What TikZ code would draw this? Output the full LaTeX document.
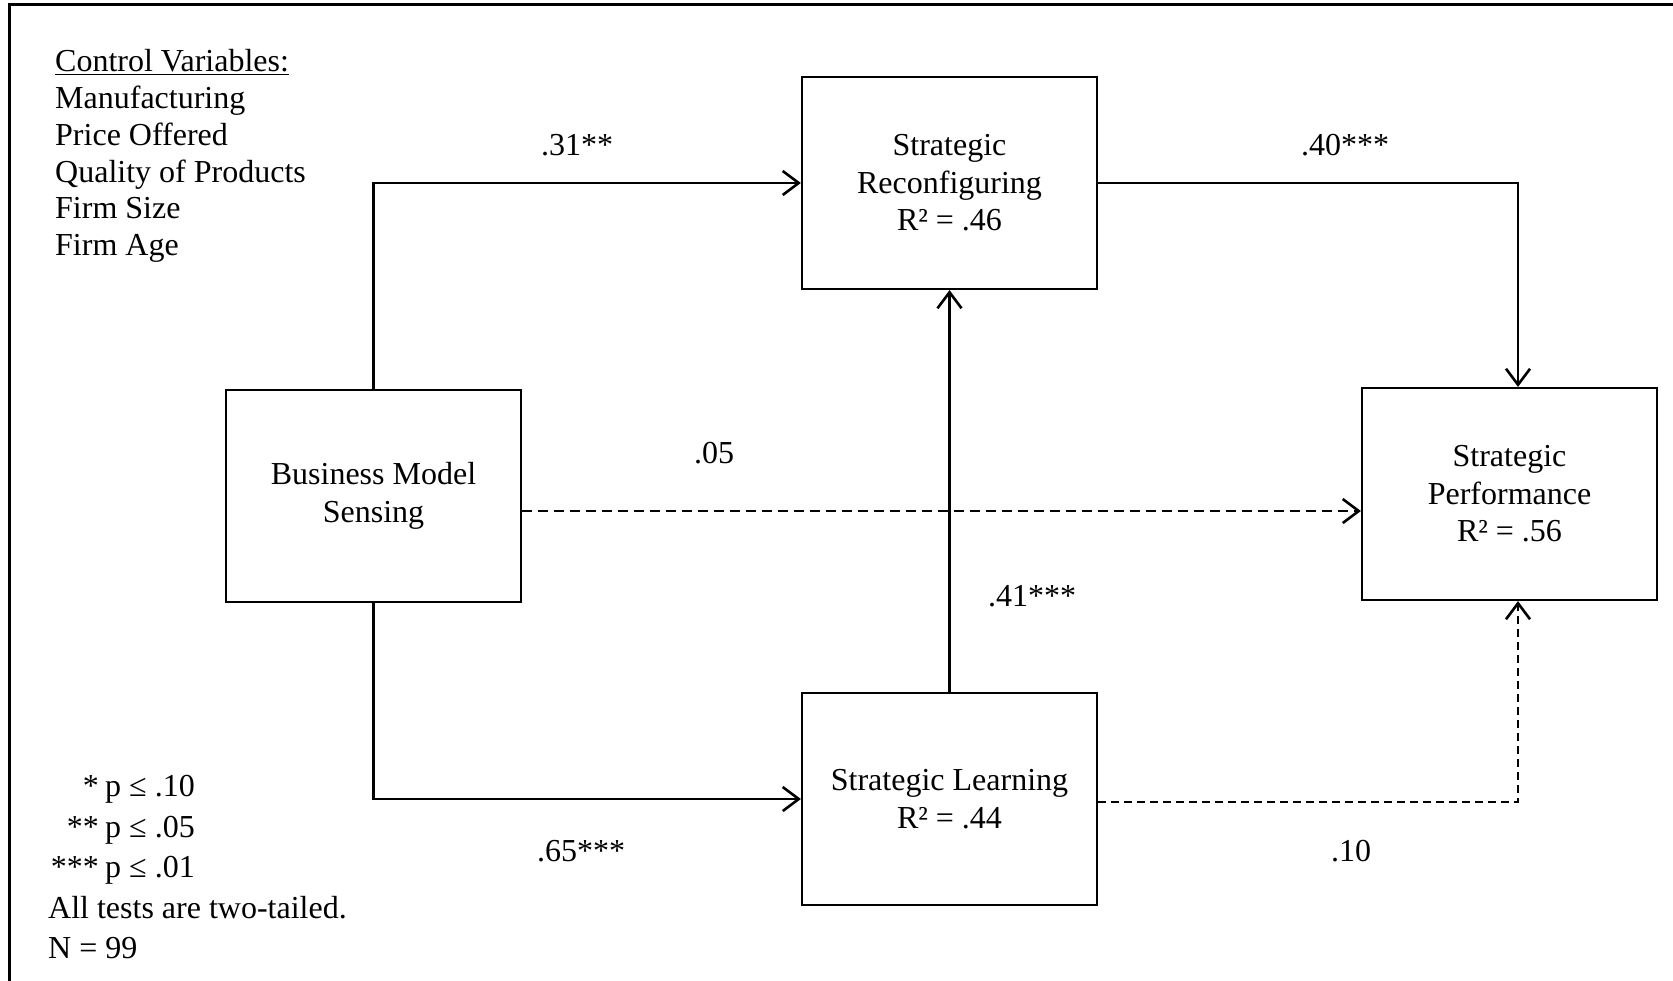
\documentclass[tikz,border=0pt]{standalone}
\usepackage{fontspec}
\setmainfont{Liberation Serif}
\usetikzlibrary{arrows.meta}
\begin{document}
\begin{tikzpicture}[x=1pt,y=-1pt,
  box/.style={draw,line width=2.2pt,minimum width=295pt,minimum height=212pt,inner sep=0pt,align=center,font=\fontsize{32}{37.5}\selectfont},
  txt/.style={inner sep=0pt,font=\fontsize{32}{37}\selectfont},
  conn/.style={line width=2.6pt,-{Straight Barb[length=16pt,width=24pt,line width=2.6pt]}},
  dsh/.style={conn,dash pattern=on 10pt off 6pt},
  dshb/.style={conn,dash pattern=on 8pt off 5pt}]
\useasboundingbox (0,0) rectangle (1673,981);
\draw[line width=3pt] (9,981) -- (9,5) -- (1673,5);
% boxes
\node[box] (bms) at (373.5,496) {Business Model\\Sensing};
\node[box] (sr) at (949.5,183) {Strategic\\Reconfiguring\\R² = .46};
\node[box] (sp) at (1509.5,494) {Strategic\\Performance\\R² = .56};
\node[box] (sl) at (949.5,799) {Strategic Learning\\R² = .44};
% connectors
\draw[conn] (bms.north) |- (sr.west);
\draw[conn] (bms.south) |- (sl.west);
\draw[conn] (sr.east) -| ([xshift=8.5pt]sp.north);
\draw[conn] (sl.north) -- (sr.south);
\coordinate (d1) at ([yshift=-15pt]bms.east);
\draw[dsh] (d1) -- (d1 -| sp.west);
\coordinate (d2) at ([yshift=-3pt]sl.east);
\draw[dshb] (d2) -| ([xshift=8.5pt]sp.south);
% path labels
\node[txt,anchor=base] (l31) at (577,156) {.31**};
\node[txt,anchor=base] (l40) at (1345,156) {.40***};
\node[txt,anchor=base] (l05) at (714,463) {.05};
\node[txt,anchor=base] (l41) at (1032,606) {.41***};
\node[txt,anchor=base] (l65) at (581,861) {.65***};
\node[txt,anchor=base] (l10) at (1351,861) {.10};
% control variables
\node[txt,anchor=base west] (cv0) at (55,72) {\underline{Control Variables:}};
\node[txt,anchor=base west] (cv1) at (55,108.7) {Manufacturing};
\node[txt,anchor=base west] (cv2) at (55,145.4) {Price Offered};
\node[txt,anchor=base west] (cv3) at (55,182.1) {Quality of Products};
\node[txt,anchor=base west] (cv4) at (55,218.8) {Firm Size};
\node[txt,anchor=base west] (cv5) at (55,255.5) {Firm Age};
% legend
\node[txt,anchor=base east] (s1) at (99,796) {*};
\node[txt,anchor=base west] (p1) at (105,796) {p ≤ .10};
\node[txt,anchor=base east] (s2) at (99,837) {**};
\node[txt,anchor=base west] (p2) at (105,837) {p ≤ .05};
\node[txt,anchor=base east] (s3) at (99,877) {***};
\node[txt,anchor=base west] (p3) at (105,877) {p ≤ .01};
\node[txt,anchor=base west] (at) at (48,918) {All tests are two-tailed.};
\node[txt,anchor=base west] (nn) at (48,958) {N = 99};
\end{tikzpicture}
\end{document}
